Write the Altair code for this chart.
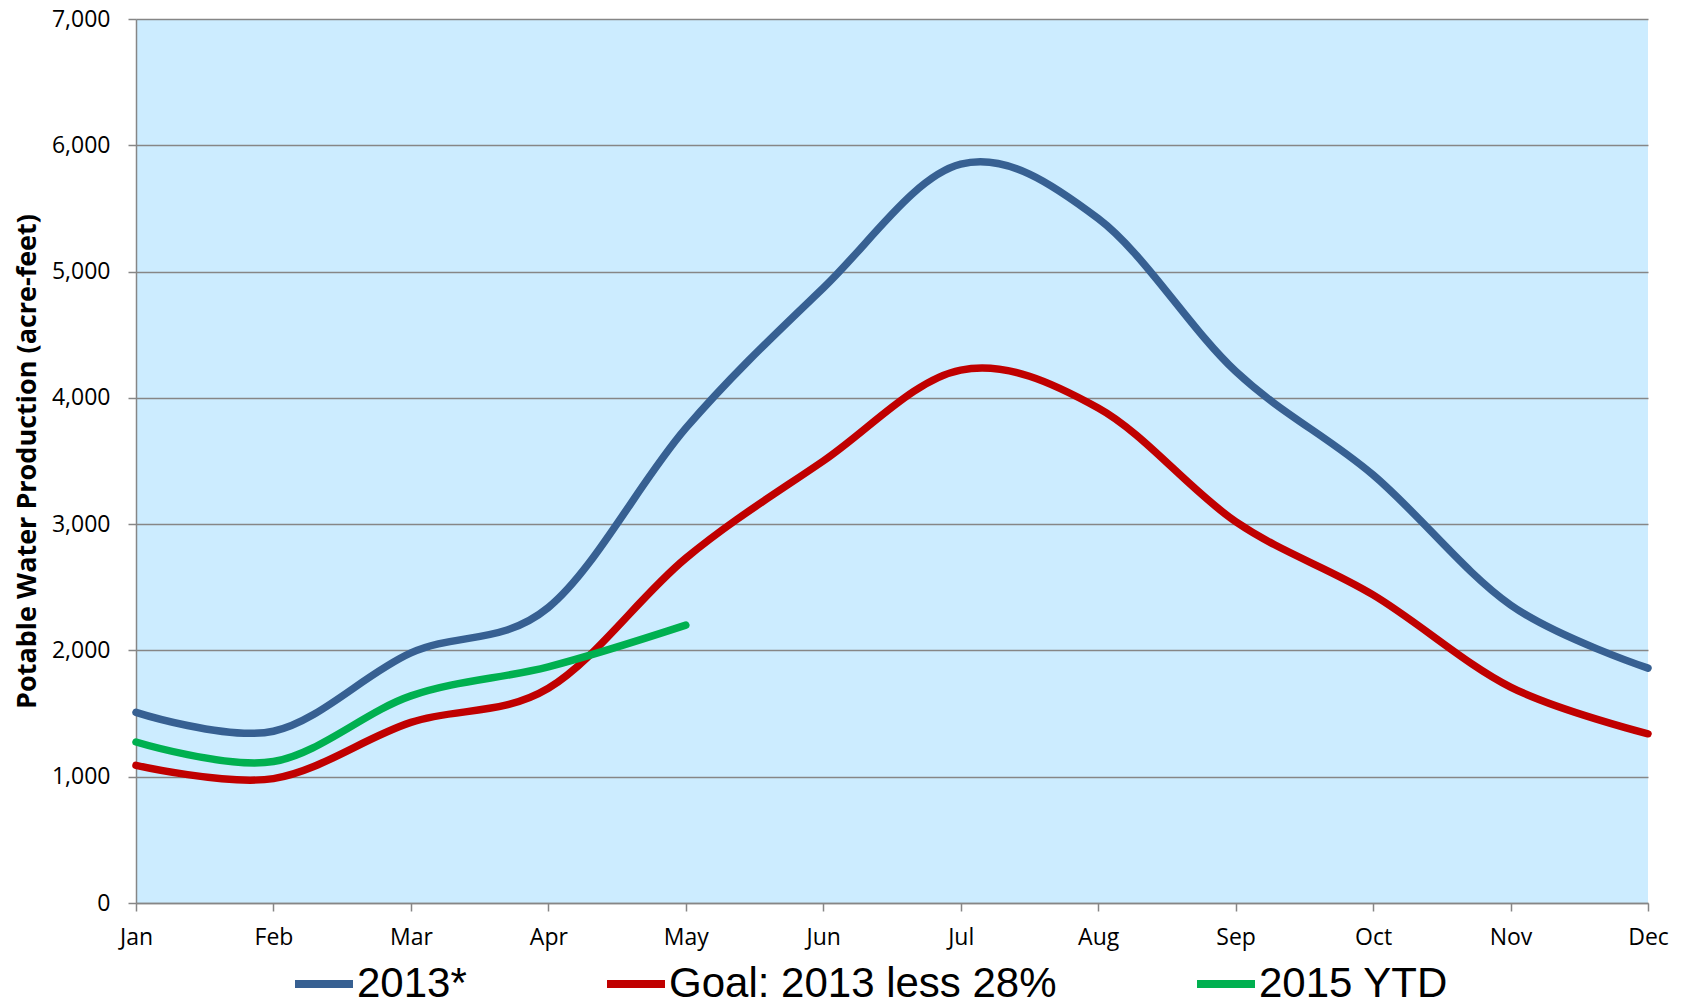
import altair as alt
import pandas as pd

months = ["Jan", "Feb", "Mar", "Apr", "May", "Jun", "Jul", "Aug", "Sep", "Oct", "Nov", "Dec"]
series_names = ["2013*", "Goal: 2013 less 28%", "2015 YTD"]
y2013 = [1510, 1360, 1980, 2340, 3760, 4870, 5850, 5420, 4210, 3390, 2360, 1860]
goal = [1090, 985, 1430, 1700, 2730, 3500, 4220, 3920, 3020, 2440, 1710, 1340]
ytd2015 = [1275, 1120, 1640, 1870, 2200]
colors = ["#376092", "#C00000", "#00B050"]
y_ticks = [0, 1000, 2000, 3000, 4000, 5000, 6000, 7000]

rows = []
for name, vals in zip(series_names, [y2013, goal, ytd2015]):
    for i, v in enumerate(vals):
        rows.append({"series": name, "month": months[i], "idx": i, "value": v})
df = pd.DataFrame(rows)

GRAY = "#868686"

chart = (
    alt.Chart(df)
    .mark_line(interpolate="cardinal", strokeWidth=7.5, strokeCap="round", strokeJoin="round")
    .encode(
        x=alt.X(
            "month:O",
            sort=months,
            scale=alt.Scale(type="point", padding=0),
            axis=alt.Axis(
                title=None,
                labelAngle=0,
                labelFont="Open Sans",
                labelFontSize=23,
                labelColor="#000000",
                labelPadding=15,
                tickColor=GRAY,
                tickSize=8,
                tickWidth=1.5,
                domainColor=GRAY,
                domainWidth=1.5,
                grid=False,
            ),
        ),
        y=alt.Y(
            "value:Q",
            scale=alt.Scale(domain=[0, 7000], nice=False),
            axis=alt.Axis(
                values=y_ticks,
                format=",d",
                title="Potable Water Production (acre-feet)",
                titleFont="Open Sans",
                titleFontSize=27,
                titleFontWeight="bold",
                titleColor="#000000",
                titleAngle=270,
                titleBaseline="alphabetic",
                titleAlign="center",
                titleX=-101,
                titleY=442,
                labelFont="Open Sans",
                labelFontSize=23,
                labelColor="#000000",
                labelPadding=18,
                tickColor=GRAY,
                tickSize=8,
                tickWidth=1.5,
                domainColor=GRAY,
                domainWidth=1.5,
                grid=True,
                gridColor=GRAY,
                gridWidth=1.5,
            ),
        ),
        color=alt.Color(
            "series:N",
            scale=alt.Scale(domain=series_names, range=colors),
            legend=alt.Legend(
                title=None,
                orient="none",
                direction="horizontal",
                legendX=155,
                legendY=932,
                symbolType="stroke",
                symbolSize=3364,
                symbolStrokeWidth=8,
                labelFont="Liberation Sans",
                labelFontSize=42,
                labelColor="#000000",
                labelOffset=0,
                columnPadding=124,
                labelLimit=600,
            ),
        ),
        order=alt.Order("idx:Q"),
    )
    .properties(
        width=1512,
        height=884,
        autosize=alt.AutoSizeParams(type="none"),
        padding={"left": 128, "top": 11, "right": 30, "bottom": 97},
    )
    .configure_view(fill="#CCECFF", strokeWidth=0)
)

chart.save("out.html", embed_options={"renderer": "svg", "actions": False})
